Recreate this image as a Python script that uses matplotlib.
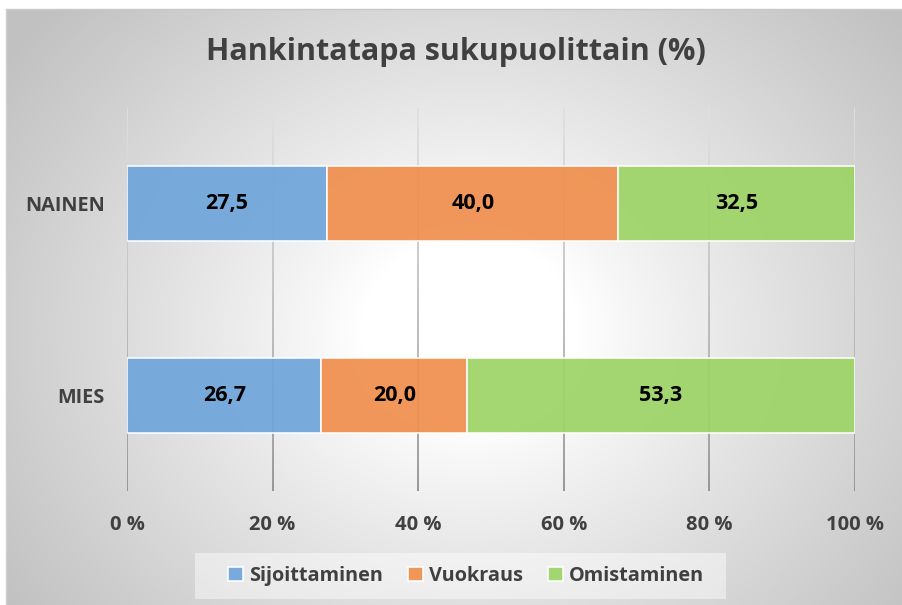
import numpy as np
import matplotlib
matplotlib.use("Agg")
import matplotlib.pyplot as plt
from matplotlib.collections import LineCollection
from matplotlib.patches import Rectangle

# ---- data ----
title = "Hankintatapa sukupuolittain (%)"
categories = ["MIES", "NAINEN"]
series_names = ["Sijoittaminen", "Vuokraus", "Omistaminen"]
sijoittaminen = [26.7, 27.5]
vuokraus = [20.0, 40.0]
omistaminen = [53.3, 32.5]
x_ticks = [0, 20, 40, 60, 80, 100]
x_tick_labels = ["0 %", "20 %", "40 %", "60 %", "80 %", "100 %"]

colors = ["#6FA6DA", "#F08F4E", "#9DD467"]
text_gray = "#404040"
FONT = "Open Sans"

W, H = 902, 605
fig = plt.figure(figsize=(W / 100, H / 100), dpi=100)
fig.patch.set_facecolor("white")

# background with radial gradient
bg = fig.add_axes([6 / W, 0, (W - 6) / W, (H - 9) / H])
bg.set_axis_off()
nx, ny = 450, 300
xx, yy = np.meshgrid(np.linspace(6, W, nx), np.linspace(9, H, ny))
cx, cy = 470, 330
r = np.sqrt(((xx - cx) / 1.0) ** 2 + ((yy - cy) / 0.85) ** 2)
r0, r1 = 110, 560
t = np.clip((r - r0) / (r1 - r0), 0, 1)
val = 1.0 - 0.24 * t ** 0.9
img = np.dstack([val, val, val])
bg.imshow(img, extent=[0, 1, 0, 1], aspect="auto", origin="upper")
bg.set_xlim(0, 1)
bg.set_ylim(0, 1)
bg.plot([0, 1], [1, 1], color="#c8c8c8", lw=1.0, transform=bg.transAxes, clip_on=False)
bg.plot([0, 0], [0, 1], color="#d0d0d0", lw=1.0, transform=bg.transAxes, clip_on=False)

# main axes
left, right = 127 / W, 855 / W
bottom, top = (H - 491) / H, (H - 108) / H
ax = fig.add_axes([left, bottom, right - left, top - bottom])
ax.patch.set_alpha(0)
ax.set_xlim(0, 100)
ax.set_ylim(-0.5, 1.5)

# gridlines with vertical colour gradient
nseg = 60
ys = np.linspace(-0.5, 1.5, nseg + 1)
segs, cols = [], []
for xv in x_ticks:
    for i in range(nseg):
        segs.append([(xv, ys[i]), (xv, ys[i + 1])])
        f = i / (nseg - 1)  # 0 bottom -> 1 top
        g = 0.56 + 0.32 * f ** 0.8
        cols.append((g, g, g, 1.0))
lc = LineCollection(segs, colors=cols, linewidths=1.3, zorder=1)
ax.add_collection(lc)

# bars
y = np.arange(len(categories))
bar_h = 0.393
lefts = np.zeros(len(categories))
for name, vals, c in zip(series_names, [sijoittaminen, vuokraus, omistaminen], colors):
    ax.barh(y, vals, left=lefts, height=bar_h, color=c, alpha=0.93,
            edgecolor=(1, 1, 1, 0.55), linewidth=1.2, label=name, zorder=2)
    for yi, (l, v) in enumerate(zip(lefts, vals)):
        ax.text(l + v / 2, yi, f"{v:.1f}".replace(".", ","), ha="center", va="center",
                fontsize=15.5, fontweight="bold", color="black", family=FONT, zorder=3)
    lefts = lefts + np.array(vals)

ax.set_yticks(y)
ax.set_yticklabels(categories, fontsize=14.3, fontweight="bold", color=text_gray, family=FONT)
ax.set_xticks(x_ticks)
ax.set_xticklabels(x_tick_labels, fontsize=14.5, fontweight="bold", color=text_gray, family=FONT)
ax.tick_params(axis="both", length=0)
ax.tick_params(axis="x", pad=17)
ax.tick_params(axis="y", pad=16)
for s in ax.spines.values():
    s.set_visible(False)

fig.text(456 / W, 1 - 52 / H, title, ha="center", va="center", fontsize=22,
         fontweight="bold", color=text_gray, family=FONT)

# legend background box
fig.patches.append(Rectangle((195 / W, 1 - 599 / H), (726 - 195) / W, 46 / H,
                             transform=fig.transFigure, facecolor=(1, 1, 1, 0.45),
                             edgecolor="none", zorder=5))
leg = fig.legend(loc="center", bbox_to_anchor=(466 / W, 1 - 576 / H), ncol=3,
                 frameon=False, handlelength=0.75, handleheight=0.75,
                 handletextpad=0.3, columnspacing=1.25, borderpad=0.7,
                 prop={"family": FONT, "weight": "bold", "size": 14.3})
leg.set_zorder(6)
for t_ in leg.get_texts():
    t_.set_color(text_gray)

fig.savefig("out.png", dpi=100)
